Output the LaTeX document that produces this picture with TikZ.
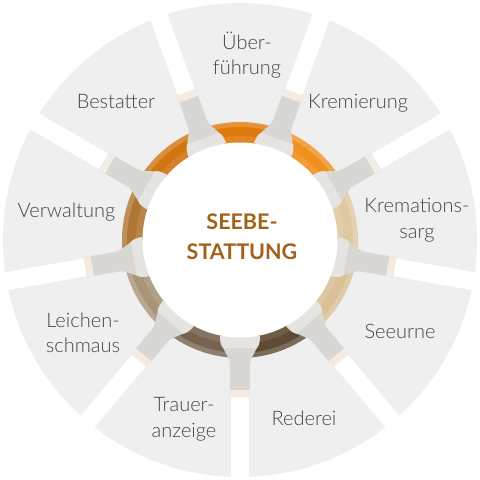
\documentclass[tikz,border=0pt]{standalone}
\usepackage{fontspec}
\setmainfont{Lato}
\IfFontExistsTF{Lato Light}{\newfontfamily\lblfont{Lato Light}}{\newfontfamily\lblfont{Lato}}
\definecolor{wedgecol}{HTML}{EFEFEF}
\definecolor{tabcol}{HTML}{D9D7D4}
\definecolor{tablight}{HTML}{E6E4E1}
\definecolor{tabend}{HTML}{F4ECE3}
\definecolor{txtgray}{HTML}{454545}
\definecolor{ctrcol}{HTML}{A2611B}
\definecolor{rA}{HTML}{E07A0C}
\definecolor{rB}{HTML}{F0901E}
\definecolor{rC}{HTML}{E0C8A2}
\definecolor{rD}{HTML}{D9C096}
\definecolor{rE}{HTML}{5E4A35}
\definecolor{rF}{HTML}{766450}
\definecolor{rG}{HTML}{A89479}
\definecolor{rH}{HTML}{B07634}
\definecolor{rI}{HTML}{D07512}
\tikzset{
  lbl/.style={text=txtgray, align=center, font=\lblfont\fontsize{20}{25.5}\selectfont, inner sep=0pt},
  ctr/.style={text=ctrcol, align=center, font=\fontsize{21.5}{30}\selectfont\bfseries, inner sep=0pt},
  gapline/.style={draw=white, line width=18pt}
}
\begin{document}
\begin{tikzpicture}[x=1pt,y=1pt]
\useasboundingbox (-240,-240) rectangle (240,240);
\fill[white] (-240,-240) rectangle (240,240);
% wedges
\fill[wedgecol] (0,0) circle (237);
% white gaps
\foreach \t in {20,60,...,340}{
  \draw[gapline] ({90-\t}:152) -- ({90-\t}:250);
}
% ring sectors
\foreach \t/\c in {0/rA,40/rB,80/rC,120/rD,160/rE,200/rF,240/rG,280/rH,320/rI}{
  \pgfmathsetmacro{\ma}{90-\t-21}
  \pgfmathsetmacro{\mb}{90-\t+21}
  \fill[\c!82!white] (\ma:118) arc[start angle=\ma, end angle=\mb, radius=118]
     -- (\mb:95) arc[start angle=\mb, end angle=\ma, radius=95] -- cycle;
  \fill[\c] (\ma:113) arc[start angle=\ma, end angle=\mb, radius=113]
     -- (\mb:95) arc[start angle=\mb, end angle=\ma, radius=95] -- cycle;
  \fill[\c!90!white] (\ma:104) arc[start angle=\ma, end angle=\mb, radius=104]
     -- (\mb:95) arc[start angle=\mb, end angle=\ma, radius=95] -- cycle;
}
% tabs
\foreach \t in {20,60,...,340}{
  \begin{scope}[rotate={90-\t}]
    \fill[tabcol] (157,-10) -- (125,-10) .. controls (116,-10) and (110,-19) .. (96,-20)
       -- (96,20) .. controls (110,19) and (116,10) .. (125,10) -- (157,10) -- cycle;
    \fill[tablight] (96,-20) .. controls (104,-19.5) .. (108,-17) -- (108,17) .. controls (104,19.5) .. (96,20) -- cycle;
    \fill[tabend] (150,-10) rectangle (157,10);
  \end{scope}
}
% centre disc
\fill[white] (0,0) circle (97.5);
\node[ctr] (centre) at (2,3) {SEEBE-\\STATTUNG};
% labels
\node[lbl] (ueb) at (7,185) {Über-\\führung};
\node[lbl] (krem) at (118,137) {Kremierung};
\node[lbl] (sarg) at (177,20) {Kremations-\\sarg};
\node[lbl] (urne) at (160,-91) {Seeurne};
\node[lbl] (red) at (64,-178) {Rederei};
\node[lbl] (trauer) at (-56,-179.5) {Trauer-\\anzeige};
\node[lbl] (leich) at (-157,-93) {Leichen-\\schmaus};
\node[lbl] (verw) at (-173.5,28) {Verwaltung};
\node[lbl] (best) at (-124,138) {Bestatter};
\end{tikzpicture}
\end{document}
